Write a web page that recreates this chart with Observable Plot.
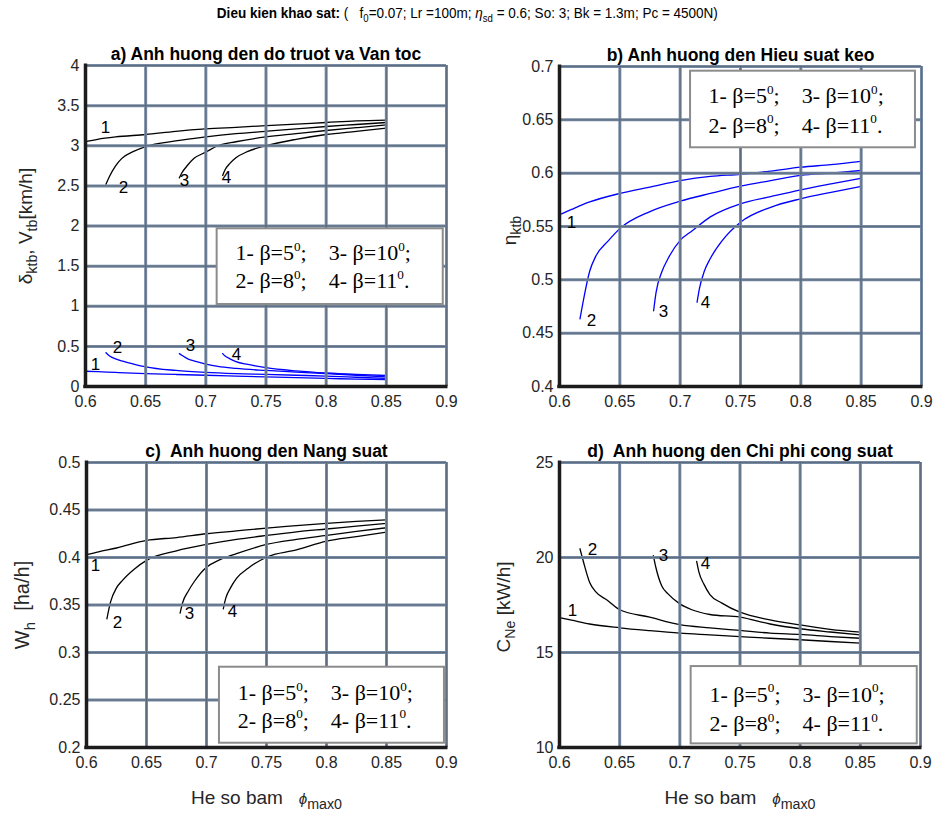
<!DOCTYPE html>
<html><head><meta charset="utf-8">
<script src="https://cdn.jsdelivr.net/npm/d3@7"></script>
<script src="https://cdn.jsdelivr.net/npm/@observablehq/plot@0.6"></script>
<style>
body{margin:0;background:#fff;}
#fig{position:relative;width:934px;height:815px;background:#fff;font-family:"Liberation Sans",Arial,sans-serif;overflow:hidden;}
#titlewrap{position:absolute;left:0;top:4px;width:934px;text-align:center;}
#title{display:inline-block;font-size:15.5px;color:#000;white-space:pre;font-family:"Liberation Sans Narrow","Arial Narrow","Liberation Sans",sans-serif;transform-origin:50% 50%;}
#title sub{font-size:11px;vertical-align:-4px;line-height:0;}
.panel{position:absolute;}
</style></head><body>
<div id="fig"><div id="titlewrap"><span id="title"><b>Dieu kien khao sat:</b> (   f<sub>0</sub>=0.07; Lr =100m; <i>η</i><sub>sd</sub> = 0.6; So: 3; Bk = 1.3m; Pc = 4500N)</span></div></div>
<script>
// ---------- data ----------
const xTicks = [0.6, 0.65, 0.7, 0.75, 0.8, 0.85, 0.9];
const curveNames = ["1", "2", "3", "4"];

// x sample points for each beta curve (beta = 5, 8, 10, 11 deg)
const phi1 = [0.6, 0.61, 0.625, 0.65, 0.675, 0.7, 0.725, 0.75, 0.775, 0.8, 0.825, 0.85];
const phi2 = [0.617, 0.62, 0.625, 0.63, 0.64, 0.65, 0.675, 0.7, 0.725, 0.75, 0.775, 0.8, 0.825, 0.85];
const phi3 = [0.678, 0.68, 0.685, 0.69, 0.7, 0.71, 0.725, 0.75, 0.775, 0.8, 0.825, 0.85];
const phi4 = [0.714, 0.716, 0.72, 0.725, 0.735, 0.75, 0.775, 0.8, 0.825, 0.85];

// a) velocity V_tb (black) and slip delta (blue)
const aTicks = [0, 0.5, 1, 1.5, 2, 2.5, 3, 3.5, 4];
const vtb1 = [3.05, 3.08, 3.11, 3.14, 3.18, 3.21, 3.23, 3.25, 3.27, 3.29, 3.31, 3.32];
const vtb2 = [2.52, 2.62, 2.75, 2.84, 2.93, 2.99, 3.06, 3.11, 3.15, 3.18, 3.21, 3.24, 3.265, 3.29];
const vtb3 = [2.60, 2.66, 2.76, 2.84, 2.92, 3.00, 3.05, 3.11, 3.15, 3.19, 3.225, 3.26];
const vtb4 = [2.63, 2.70, 2.78, 2.85, 2.93, 3.00, 3.08, 3.14, 3.18, 3.22];
const slip1 = [0.19, 0.185, 0.175, 0.16, 0.15, 0.14, 0.13, 0.12, 0.11, 0.10, 0.093, 0.087];
const slip2 = [0.42, 0.38, 0.345, 0.32, 0.28, 0.245, 0.20, 0.175, 0.16, 0.15, 0.14, 0.13, 0.115, 0.10];
const slip3 = [0.41, 0.39, 0.345, 0.32, 0.28, 0.25, 0.225, 0.20, 0.18, 0.16, 0.14, 0.12];
const slip4 = [0.41, 0.38, 0.345, 0.31, 0.275, 0.235, 0.195, 0.168, 0.15, 0.137];

// b) traction efficiency eta_ktb (blue)
const bTicks = [0.4, 0.45, 0.5, 0.55, 0.6, 0.65, 0.7];
const eta1 = [0.561, 0.566, 0.573, 0.581, 0.587, 0.593, 0.597, 0.599, 0.602, 0.6056, 0.608, 0.611];
const eta2 = [0.4635, 0.482, 0.508, 0.522, 0.536, 0.548, 0.564, 0.5737, 0.581, 0.5878, 0.593, 0.598, 0.600, 0.6025];
const eta3 = [0.471, 0.488, 0.508, 0.520, 0.537, 0.546, 0.559, 0.5713, 0.578, 0.5844, 0.590, 0.5953];
const eta4 = [0.479, 0.492, 0.508, 0.520, 0.537, 0.554, 0.568, 0.576, 0.582, 0.5875];

// c) productivity W_h (black)
const cTicks = [0.2, 0.25, 0.3, 0.35, 0.4, 0.45, 0.5];
const wh1 = [0.403, 0.406, 0.410, 0.418, 0.421, 0.425, 0.428, 0.431, 0.4335, 0.436, 0.438, 0.4397];
const wh2 = [0.3355, 0.353, 0.368, 0.376, 0.388, 0.397, 0.407, 0.4137, 0.419, 0.4232, 0.427, 0.430, 0.433, 0.436];
const wh3 = [0.3414, 0.352, 0.365, 0.375, 0.3898, 0.397, 0.404, 0.4137, 0.419, 0.4232, 0.4275, 0.4313];
const wh4 = [0.346, 0.357, 0.368, 0.378, 0.389, 0.4003, 0.408, 0.4172, 0.422, 0.4266];

// d) specific power cost C_Ne (black)
const dTicks = [10, 15, 20, 25];
const cne1 = [16.83, 16.70, 16.50, 16.30, 16.15, 16.02, 15.93, 15.84, 15.75, 15.67, 15.58, 15.49];
const cne2 = [20.46, 19.75, 18.70, 18.20, 17.74, 17.25, 16.86, 16.47, 16.30, 16.16, 16.02, 15.95, 15.84, 15.75];
const cne3 = [20.10, 19.50, 18.50, 18.10, 17.56, 17.25, 17.00, 16.86, 16.50, 16.25, 16.08, 15.93];
const cne4 = [19.80, 19.20, 18.60, 18.05, 17.60, 17.12, 16.72, 16.45, 16.22, 16.07];

// curve number label anchors (data coordinates)
const labAvX = [0.6166, 0.6316, 0.6823, 0.7172], labAvY = [3.23, 2.48, 2.57, 2.60];
const labAsX = [0.6083, 0.6266, 0.6873, 0.7255], labAsY = [0.274, 0.486, 0.511, 0.399];
const labBX = [0.6099, 0.6265, 0.6862, 0.721], labBY = [0.5537, 0.4619, 0.4703, 0.4788];
const labCX = [0.6075, 0.6258, 0.6858, 0.7217], labCY = [0.3916, 0.3316, 0.341, 0.343];
const labDX = [0.6108, 0.6274, 0.6864, 0.7213], labDY = [17.21, 20.42, 20.1, 19.68];

const legendLines = ["1- β=5^{0};    3- β=10^{0};", "2- β=8^{0};    4- β=11^{0}."];

// ---------- helpers ----------
const GRID = "#7589a2";
const fmt = d => String(Math.round(d * 100) / 100);
const rows = (xs, ys) => xs.map((x, i) => ({x, y: ys[i]}));
const labelRows = (xs, ys) => xs.map((x, i) => ({x, y: ys[i], t: curveNames[i]}));

function richify(svg) {
  d3.select(svg).selectAll("text").each(function () {
    const t = this.textContent;
    this.setAttribute("xml:space", "preserve");
    this.style.whiteSpace = "pre";
    if (!/[_^*]\{/.test(t)) return;
    const fs = parseFloat(getComputedStyle(this).fontSize) || 16;
    const parts = [];
    let last = 0; const re = /([_^*])\{([^}]*)\}/g; let m;
    while ((m = re.exec(t))) {
      if (m.index > last) parts.push({k: "n", s: t.slice(last, m.index)});
      parts.push({k: m[1] === "_" ? "sub" : m[1] === "^" ? "sup" : "it", s: m[2]});
      last = re.lastIndex;
    }
    if (last < t.length) parts.push({k: "n", s: t.slice(last)});
    while (this.firstChild) this.removeChild(this.firstChild);
    let off = 0;
    for (const p of parts) {
      const ts = document.createElementNS("http://www.w3.org/2000/svg", "tspan");
      ts.style.whiteSpace = "pre";
      let target = 0;
      if (p.k === "sub") { target = 0.3 * fs; ts.setAttribute("font-size", 0.75 * fs); }
      if (p.k === "sup") { target = -0.42 * fs; ts.setAttribute("font-size", 0.6 * fs); }
      if (p.k === "it") { ts.setAttribute("font-style", "italic"); ts.setAttribute("font-size", 0.8 * fs); }
      if (target - off !== 0) ts.setAttribute("dy", target - off);
      off = target;
      ts.textContent = p.s;
      this.appendChild(ts);
    }
  });
}

function panel(spec) {
  const marks = [];
  for (const s of spec.series)
    marks.push(Plot.line(rows(s.x, s.y), {x: "x", y: "y", stroke: s.color, strokeWidth: 1.3, curve: "monotone-x"}));
  marks.push(
    Plot.ruleX(xTicks, {stroke: GRID, strokeWidth: 3}),
    Plot.ruleY(spec.yTicks, {stroke: GRID, strokeWidth: 3}),
    Plot.ruleX(xTicks, {stroke: "#222", strokeWidth: 0.6, strokeOpacity: 0.45}),
    Plot.ruleY(spec.yTicks, {stroke: "#222", strokeWidth: 0.6, strokeOpacity: 0.45}),
    Plot.ruleX([xTicks[0]], {stroke: "#1c1c1c", strokeWidth: 3.5, insetBottom: -1.75, insetTop: -1.5}),
    Plot.ruleY([spec.yTicks[0]], {stroke: "#1c1c1c", strokeWidth: 3.5, insetLeft: -1.75, insetRight: -1.5})
  );
  for (const L of spec.labels)
    marks.push(Plot.text(labelRows(L.x, L.y), {x: "x", y: "y", text: "t", fill: "#000", fontSize: 17}));
  const b = spec.box;
  marks.push(
    Plot.rect([b], {x1: "x1", x2: "x2", y1: "y1", y2: "y2", fill: "white", stroke: "#8c8c8c", strokeWidth: 2}),
    Plot.text(legendLines.map((t, i) => ({t, y: b.ly[i]})), {x: b.lx, y: "y", text: "t", textAnchor: "start", fill: "#000", fontSize: 22, fontFamily: "'Liberation Serif', 'Times New Roman', serif"})
  );
  marks.push(Plot.text([spec.title], {frameAnchor: "top", lineAnchor: "bottom", dy: -6, fontWeight: "bold", fontSize: 17.5, fill: "#000"}));
  marks.push(Plot.text([spec.ylabel], {frameAnchor: "left", rotate: -90, textAnchor: "middle", lineAnchor: "middle", dx: spec.ylDx, dy: spec.ylDy, fontSize: spec.ylSize || 19, fill: "#262626"}));
  if (spec.xlabel)
    marks.push(Plot.text([spec.xlabel], {frameAnchor: "bottom", lineAnchor: "middle", dy: 50, fontSize: 19, fill: "#262626"}));
  return Plot.plot({
    width: spec.w, height: spec.h,
    marginTop: spec.m[0], marginRight: spec.m[1], marginBottom: spec.m[2], marginLeft: spec.m[3],
    x: {domain: [0.6, 0.9], ticks: xTicks, tickFormat: fmt, tickSize: 0, tickPadding: 9, label: null},
    y: {domain: [spec.yTicks[0], spec.yTicks[spec.yTicks.length - 1]], ticks: spec.yTicks, tickFormat: fmt, tickSize: 0, tickPadding: 6, label: null},
    style: {fontFamily: "Liberation Sans, Arial, sans-serif", fontSize: "16px", color: "#262626", background: "white", overflow: "visible"},
    marks
  });
}

const specs = [
  {left: 0, top: 30, w: 467, h: 390, m: [35, 21, 34, 85], yTicks: aTicks,
   series: [
     {x: phi1, y: vtb1, color: "#000"}, {x: phi2, y: vtb2, color: "#000"}, {x: phi3, y: vtb3, color: "#000"}, {x: phi4, y: vtb4, color: "#000"},
     {x: phi1, y: slip1, color: "#0000ff"}, {x: phi2, y: slip2, color: "#0000ff"}, {x: phi3, y: slip3, color: "#0000ff"}, {x: phi4, y: slip4, color: "#0000ff"}],
   labels: [{x: labAvX, y: labAvY}, {x: labAsX, y: labAsY}],
   box: {x1: 0.7094, x2: 0.8973, y1: 1.022, y2: 1.965, lx: 0.7247, ly: [1.66, 1.31]},
   title: "a) Anh huong den do truot va Van toc", ylabel: "δ_{ktb}, V_{tb}[km/h]", ylDx: -60, ylDy: 0},
  {left: 467, top: 30, w: 467, h: 390, m: [36, 13, 34, 92], yTicks: bTicks,
   series: [{x: phi1, y: eta1, color: "#0000ff"}, {x: phi2, y: eta2, color: "#0000ff"}, {x: phi3, y: eta3, color: "#0000ff"}, {x: phi4, y: eta4, color: "#0000ff"}],
   labels: [{x: labBX, y: labBY}],
   box: {x1: 0.7086, x2: 0.895, y1: 0.6238, y2: 0.6956, lx: 0.7235, ly: [0.6725, 0.6447]},
   title: "b) Anh huong den Hieu suat keo", ylabel: "η_{ktb}", ylDx: -50, ylDy: 4},
  {left: 0, top: 420, w: 467, h: 395, m: [42, 21, 68, 86], yTicks: cTicks,
   series: [{x: phi1, y: wh1, color: "#000"}, {x: phi2, y: wh2, color: "#000"}, {x: phi3, y: wh3, color: "#000"}, {x: phi4, y: wh4, color: "#000"}],
   labels: [{x: labCX, y: labCY}],
   box: {x1: 0.7108, x2: 0.8983, y1: 0.2045, y2: 0.2845, lx: 0.726, ly: [0.257, 0.2284]},
   title: "c)  Anh huong den Nang suat", ylabel: "W_{h}  [ha/h]", ylSize: 20, ylDx: -64, ylDy: 0, xlabel: "He so bam   *{ϕ}_{max0}"},
  {left: 467, top: 420, w: 467, h: 395, m: [42, 14, 68, 92], yTicks: dTicks,
   series: [{x: phi1, y: cne1, color: "#000"}, {x: phi2, y: cne2, color: "#000"}, {x: phi3, y: cne3, color: "#000"}, {x: phi4, y: cne4, color: "#000"}],
   labels: [{x: labDX, y: labDY}],
   box: {x1: 0.7094, x2: 0.8973, y1: 10.19, y2: 14.26, lx: 0.7246, ly: [12.78, 11.25]},
   title: "d)  Anh huong den Chi phi cong suat", ylabel: "C_{Ne} [kW/h]", ylDx: -56, ylDy: 2, xlabel: "He so bam   *{ϕ}_{max0}"}
];

const fig = document.getElementById("fig");
for (const s of specs) {
  const div = document.createElement("div");
  div.className = "panel";
  div.style.left = s.left + "px"; div.style.top = s.top + "px";
  const svg = panel(s);
  div.appendChild(svg);
  fig.appendChild(div);
  richify(svg);
}
// fit the narrow suptitle to the reference width (~501px)
const titleEl = document.getElementById("title");
const tw = titleEl.getBoundingClientRect().width;
if (tw > 0) titleEl.style.transform = `scaleX(${501 / tw})`;
</script>
</body></html>
